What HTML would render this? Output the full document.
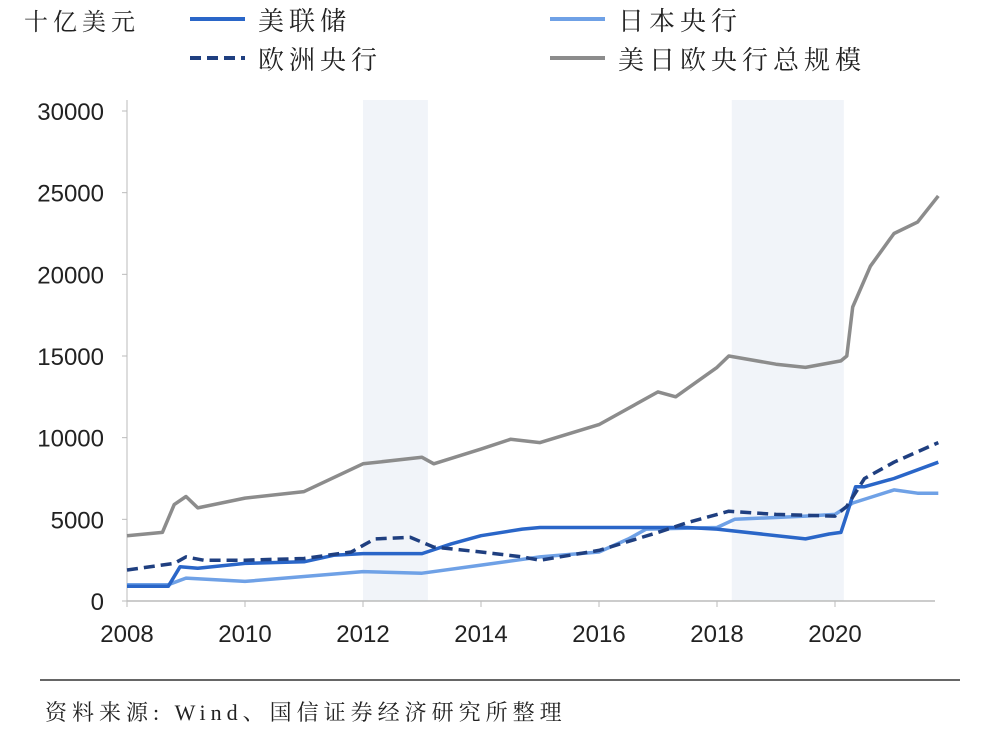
<!DOCTYPE html>
<html><head><meta charset="utf-8"><style>
body{margin:0;background:#fff;}
svg text{font-family:"Liberation Sans","Noto Sans CJK SC",sans-serif;}
.cj{font-family:"Liberation Serif","Noto Serif CJK SC",serif;}
</style></head><body>
<svg id="c" width="1000" height="734" viewBox="0 0 1000 734" xmlns="http://www.w3.org/2000/svg">
<text class="cj" x="24" y="30" font-size="24" letter-spacing="5" fill="#222">十亿美元</text>
<g>
<g><line x1="190" y1="19" x2="245" y2="19" stroke="#2a66c8" stroke-width="4"/><text class="cj" x="258" y="30" font-size="26" letter-spacing="5" fill="#222">美联储</text></g>
<g><line x1="550" y1="19" x2="605" y2="19" stroke="#6fa1e6" stroke-width="4"/><text class="cj" x="618" y="30" font-size="26" letter-spacing="5" fill="#222">日本央行</text></g>
<g><line x1="190" y1="58" x2="245" y2="58" stroke="#1f3f80" stroke-width="4" stroke-dasharray="11,6"/><text class="cj" x="258" y="69" font-size="26" letter-spacing="5" fill="#222">欧洲央行</text></g>
<g><line x1="550" y1="58" x2="605" y2="58" stroke="#8c8c8c" stroke-width="4"/><text class="cj" x="618" y="69" font-size="26" letter-spacing="5" fill="#222">美日欧央行总规模</text></g>
</g>
<g id="plot"></g>
<line x1="40" y1="680" x2="960" y2="680" stroke="#333" stroke-width="1.5"/>
<text class="cj" x="45" y="720" font-size="22" letter-spacing="5" fill="#222">资料来源: Wind、国信证券经济研究所整理</text>
</svg>
<script>
const years=[2008,2010,2012,2014,2016,2018,2020];
const yTicks=[0,5000,10000,15000,20000,25000,30000];
const shades=[[2012,2013.1],[2018.25,2020.15]];
const fedT=[2008,2008.7,2008.9,2009.2,2010,2011,2011.5,2012,2013,2013.5,2014,2014.7,2015,2017.5,2018,2019.5,2019.9,2020.1,2020.2,2020.35,2020.5,2021,2021.75];
const fedV=[900,900,2100,2000,2300,2400,2800,2900,2900,3500,4000,4400,4500,4500,4400,3800,4100,4200,5300,7000,7000,7500,8500];
const bojT=[2008,2008.7,2009,2010,2011,2012,2013,2014,2015,2016,2016.5,2016.8,2018,2018.3,2019.5,2020,2020.3,2021,2021.4,2021.75];
const bojV=[1000,1000,1400,1200,1500,1800,1700,2200,2700,3000,3800,4400,4500,5000,5200,5300,6000,6800,6600,6600];
const ecbT=[2008,2008.8,2009,2009.3,2010,2011,2011.8,2012.2,2012.8,2013.2,2014,2014.7,2015,2015.5,2016,2017,2017.5,2018.2,2019,2020,2020.2,2020.5,2021,2021.75];
const ecbV=[1900,2300,2700,2500,2500,2600,3000,3800,3900,3300,3000,2700,2500,2800,3100,4200,4800,5500,5300,5200,5800,7500,8500,9700];
const totT=[2008,2008.6,2008.8,2009,2009.2,2010,2011,2012,2013,2013.2,2014,2014.5,2015,2016,2017,2017.3,2018,2018.2,2019,2019.5,2020.1,2020.2,2020.3,2020.6,2021,2021.4,2021.75];
const totV=[4000,4200,5900,6400,5700,6300,6700,8400,8800,8400,9300,9900,9700,10800,12800,12500,14300,15000,14500,14300,14700,15000,18000,20500,22500,23200,24800];
const X=t=>127+(t-2008)*59;
const Y=v=>601-v*(490/30000);
const NS="http://www.w3.org/2000/svg";
const g=document.getElementById('plot');
function mk(tag,attrs){const e=document.createElementNS(NS,tag);for(const k in attrs)e.setAttribute(k,attrs[k]);g.appendChild(e);return e;}
shades.forEach(s=>{const r=mk('rect',{x:X(s[0]),y:100,width:X(s[1])-X(s[0]),height:501,fill:'#f1f4f9'});

});
const ax=mk('line',{x1:127,y1:100,x2:127,y2:601,stroke:'#bbb','stroke-width':1});


const bx=mk('line',{x1:127,y1:601,x2:935,y2:601,stroke:'#bbb','stroke-width':1.5});


yTicks.forEach(v=>{const t=mk('text',{x:104,y:Y(v)+9,'font-size':24,fill:'#222','text-anchor':'end'});t.textContent=v;


const l=mk('line',{x1:122,y1:Y(v),x2:127,y2:Y(v),stroke:'#bbb'});

});
years.forEach(y=>{const t=mk('text',{x:X(y),y:642,'font-size':24,fill:'#222','text-anchor':'middle'});t.textContent=y;


const l=mk('line',{x1:X(y),y1:601,x2:X(y),y2:607,stroke:'#bbb'});

});
function line(T,V,stroke,dash,name){const d=T.map((t,i)=>(i?'L':'M')+X(t).toFixed(1)+','+Y(V[i]).toFixed(1)).join('');
const p=mk('path',{d:d,fill:'none',stroke:stroke,'stroke-width':3.5,'stroke-linejoin':'round'});
if(dash)p.setAttribute('stroke-dasharray',dash);

}
line(totT,totV,'#8c8c8c',null,'total-line');
line(bojT,bojV,'#6fa1e6',null,'boj-line');
line(fedT,fedV,'#2a66c8',null,'fed-line');
line(ecbT,ecbV,'#1f3f80','11,6','ecb-line');
</script>
</body></html>
